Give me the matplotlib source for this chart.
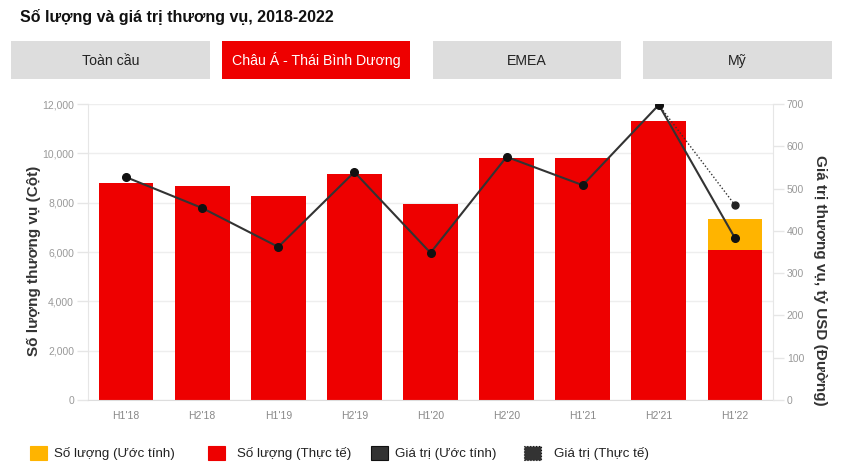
import matplotlib.pyplot as plt
from matplotlib.patches import Rectangle

plt.rcParams['font.family'] = ['Liberation Sans', 'DejaVu Sans']

# Dữ liệu
ky = ["H1'18", "H2'18", "H1'19", "H2'19", "H1'20", "H2'20", "H1'21", "H2'21", "H1'22"]
so_luong_thuc_te = [8800, 8680, 8270, 9160, 7950, 9810, 9820, 11310, 6080]
so_luong_uoc_tinh = [0, 0, 0, 0, 0, 0, 0, 0, 1260]
gia_tri = [527, 454, 362, 539, 348, 575, 508, 698, 383]
gia_tri_uoc_tinh = [698, 461]   # đoạn chấm H2'21 -> H1'22
tabs = ["Toàn cầu", "Châu Á - Thái Bình Dương", "EMEA", "Mỹ"]

W, H = 847, 475
fig = plt.figure(figsize=(W / 100, H / 100), dpi=100)

def fx(px):
    return px / W

def fy(py):
    return 1 - py / H

# Tiêu đề
fig.text(fx(20), fy(17), "Số lượng và giá trị thương vụ, 2018-2022",
         fontsize=11.5, fontweight='bold', va='center', ha='left', color='#111111')

# Các tab
tab_x = [(11, 210), (222, 410), (433, 621), (643, 832)]
for i, (name, (x0, x1)) in enumerate(zip(tabs, tab_x)):
    active = i == 1
    fig.patches.append(Rectangle((fx(x0), fy(79)), fx(x1 - x0), (79 - 41) / H,
                                 transform=fig.transFigure,
                                 facecolor='#ee0000' if active else '#dddddd',
                                 edgecolor='none'))
    fig.text(fx((x0 + x1) / 2), fy(65), name, ha='center', va='baseline',
             fontsize=10.2, color='white' if active else '#222222')

# Trục chính
ax = fig.add_axes([fx(88), fy(400), fx(773 - 88), (400 - 104) / H])
x = list(range(len(ky)))
ax.bar(x, so_luong_thuc_te, width=0.72, color='#ee0000', zorder=2)
ax.bar(x, so_luong_uoc_tinh, width=0.72, bottom=so_luong_thuc_te,
       color='#ffb400', zorder=2)
ax.set_ylim(0, 12000)
ax.set_xlim(-0.5, len(ky) - 0.5)
ax.set_yticks(range(0, 12001, 2000))
ax.set_yticklabels([f"{v:,}" for v in range(0, 12001, 2000)])
ax.set_xticks(x)
ax.set_xticklabels(ky)
ax.grid(axis='y', color='#eeeeee', linewidth=1, zorder=0)
ax.set_axisbelow(True)
for s in ['top', 'right']:
    ax.spines[s].set_visible(False)
ax.spines['left'].set_color('#e6e6e6')
ax.spines['bottom'].set_color('#dddddd')
ax.tick_params(axis='y', colors='#999999', labelsize=7.5, length=8, width=1,
               color='#e6e6e6', pad=2)
ax.tick_params(axis='x', colors='#888888', labelsize=7.5, length=0, pad=8)
ax.set_ylabel("Số lượng thương vụ (Cột)", fontsize=11, fontweight='bold',
              color='#333333')
ax.yaxis.set_label_coords(-0.069, 0.47)

# Trục phụ
ax2 = ax.twinx()
ax2.plot(x, gia_tri, color='#333333', linewidth=1.5, marker='o',
         markersize=5.5, markerfacecolor='#111111', markeredgecolor='#111111', zorder=4)
ax2.plot(x[-2:], gia_tri_uoc_tinh, color='#333333', linewidth=1, linestyle=(0, (1, 1.5)),
         marker='o', markersize=5, markevery=[1], markerfacecolor='#222222',
         markeredgecolor='#222222', zorder=3)
ax2.set_ylim(0, 700)
ax2.set_yticks(range(0, 701, 100))
for s in ['top', 'left', 'bottom']:
    ax2.spines[s].set_visible(False)
ax2.spines['right'].set_color('#e6e6e6')
ax2.tick_params(axis='y', colors='#999999', labelsize=7.5, length=8, width=1,
                color='#e6e6e6', pad=2)
ax2.set_ylabel("Giá trị thương vụ, tỷ USD (Đường)", fontsize=11, fontweight='bold',
               color='#333333', rotation=270, va='bottom')
ax2.yaxis.set_label_coords(1.059, 0.405)

# Chú thích
legend_items = [
    (30, 54, "Số lượng (Ước tính)", '#ffb400', 'solid'),
    (208, 237, "Số lượng (Thực tế)", '#ee0000', 'solid'),
    (371, 395, "Giá trị (Ước tính)", '#333333', 'solid'),
    (524, 554, "Giá trị (Thực tế)", '#333333', 'dashed'),
]
for sx, tx, label, col, style in legend_items:
    fig.patches.append(Rectangle((fx(sx), fy(460)), fx(17), 14 / H,
                                 transform=fig.transFigure, facecolor=col,
                                 edgecolor='#111111' if col == '#333333' else col,
                                 linestyle=':' if style == 'dashed' else '-',
                                 linewidth=0.8))
    fig.text(fx(tx), fy(457), label, fontsize=9.6,
             va='baseline', ha='left', color='#222222')

fig.savefig('out.png', dpi=100)
